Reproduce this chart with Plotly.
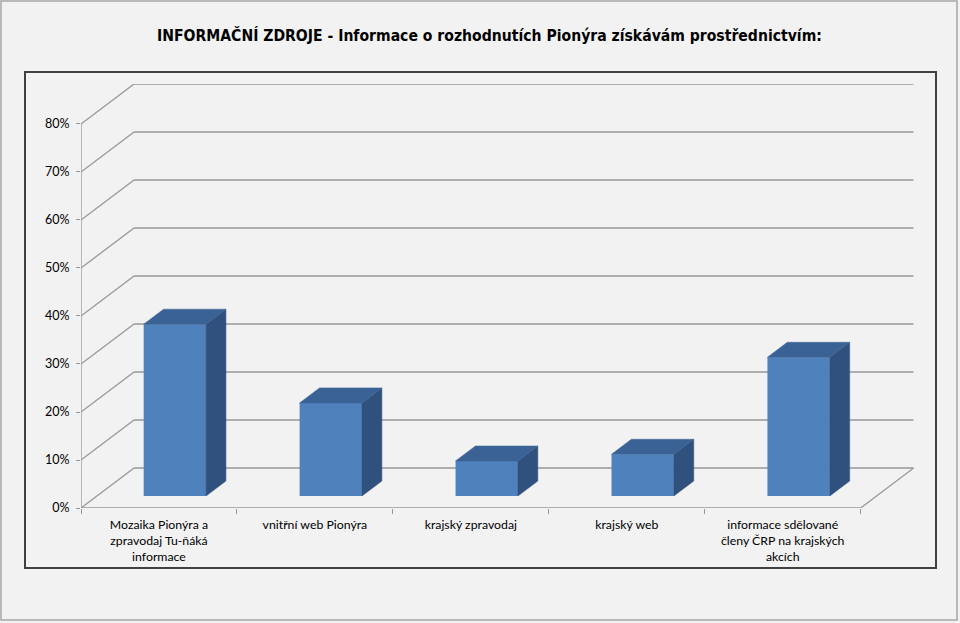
import plotly.graph_objects as go

# ---------------- data ----------------
categories = [
    "Mozaika Pionýra a<br>zpravodaj Tu-ňáká<br>informace",
    "vnitřní web Pionýra",
    "krajský zpravodaj",
    "krajský web",
    "informace sdělované<br>členy ČRP na krajských<br>akcích",
]
values = [35.8, 19.4, 7.3, 8.7, 28.9]          # percent
y_tick_values = [0, 10, 20, 30, 40, 50, 60, 70, 80]
y_tick_labels = ["0%", "10%", "20%", "30%", "40%", "50%", "60%", "70%", "80%"]
title_text = "INFORMAČNÍ ZDROJE - Informace o rozhodnutích Pionýra získávám prostřednictvím:"

# ---------------- styling / geometry ----------------
W, H = 960, 623
DX = 0.34        # oblique depth offset in category units
DY = 8.33        # oblique depth offset in value units
BAR_W = 0.40
F0, F1 = 0.30, 0.675   # bar depth position (fraction of full depth)
BG = "#F2F2F2"
GRID = dict(color="#979797", width=1.3)
FRONT = "#4F81BD"
TOP = "#3B6295"
SIDE = "#30517E"
FONT = "Lato"

n = len(categories)
ymax = y_tick_values[-1]

fig = go.Figure()

# walls / floor gridlines
for v in y_tick_values:
    fig.add_shape(type="line", xref="x", yref="y", x0=DX, y0=v + DY, x1=n + DX, y1=v + DY,
                  line=GRID, layer="below")
    fig.add_shape(type="line", xref="x", yref="y", x0=0, y0=v, x1=DX, y1=v + DY,
                  line=GRID, layer="below")
fig.add_shape(type="line", xref="x", yref="y", x0=0, y0=0, x1=0, y1=ymax, line=GRID, layer="below")
fig.add_shape(type="line", xref="x", yref="y", x0=0, y0=0, x1=n, y1=0, line=GRID, layer="below")
fig.add_shape(type="line", xref="x", yref="y", x0=n, y0=0, x1=n + DX, y1=DY, line=GRID, layer="below")

# front faces of the columns
xs = [i + 0.5 + F0 * DX for i in range(n)]
base = F0 * DY
fig.add_trace(go.Bar(x=xs, y=values, base=base, width=BAR_W,
                     marker=dict(color=FRONT, line=dict(width=0)),
                     hoverinfo="skip", showlegend=False))

# side and top faces
ddx = (F1 - F0) * DX
ddy = (F1 - F0) * DY
for xc, v in zip(xs, values):
    xl, xr = xc - BAR_W / 2, xc + BAR_W / 2
    top = base + v
    fig.add_trace(go.Scatter(
        x=[xr, xr, xr + ddx, xr + ddx, xr], y=[base, top, top + ddy, base + ddy, base],
        fill="toself", fillcolor=SIDE, mode="lines", line=dict(color=SIDE, width=0.5),
        hoverinfo="skip", showlegend=False))
    fig.add_trace(go.Scatter(
        x=[xl, xr, xr + ddx, xl + ddx, xl], y=[top, top, top + ddy, top + ddy, top],
        fill="toself", fillcolor=TOP, mode="lines", line=dict(color=TOP, width=0.5),
        hoverinfo="skip", showlegend=False))

# frames
fig.add_shape(type="rect", xref="paper", yref="paper",
              x0=1 / W, y0=1 - 620 / H, x1=957 / W, y1=1 - 1 / H,
              line=dict(color="#A6A6A6", width=1.5), layer="below")
fig.add_shape(type="rect", xref="paper", yref="paper",
              x0=25 / W, y0=1 - 568 / H, x1=936 / W, y1=1 - 72 / H,
              line=dict(color="#404040", width=2), layer="below")

# title
fig.add_annotation(text="<b>" + title_text + "</b>", xref="paper", yref="paper",
                   x=490 / W, y=1 - 35 / H, xanchor="center", yanchor="middle",
                   showarrow=False,
                   font=dict(family="DejaVu Sans Condensed, Lato, sans-serif", size=15.6, color="#000000"))

fig.update_layout(
    width=W, height=H,
    margin=dict(l=0, r=0, t=0, b=0),
    paper_bgcolor=BG, plot_bgcolor=BG,
    showlegend=False,
    xaxis=dict(
        domain=[81 / W, 913.7 / W], range=[0, n + DX], autorange=False,
        tickmode="array", tickvals=[i + 0.5 for i in range(n)], ticktext=categories,
        ticks="", showgrid=False, zeroline=False, showline=False,
        tickfont=dict(family=FONT, size=12.3, color="#000000"),
        ticklabelstandoff=8,
        minor=dict(tickmode="array", tickvals=list(range(n + 1)), ticks="outside",
                   ticklen=5, tickcolor=GRID["color"], tickwidth=1.3, showgrid=False),
        fixedrange=True, automargin=False,
    ),
    yaxis=dict(
        domain=[115 / H, 539 / H], range=[0, ymax + DY], autorange=False,
        tickmode="array", tickvals=y_tick_values, ticktext=y_tick_labels,
        ticks="outside", ticklen=4, tickcolor=GRID["color"], tickwidth=1.3,
        showgrid=False, zeroline=False, showline=False,
        tickfont=dict(family=FONT, size=12.5, color="#000000"),
        ticklabelstandoff=4,
        fixedrange=True, automargin=False,
    ),
)

fig.write_html("out.html", config={"displayModeBar": False},
               post_script="document.body.style.margin='0';")
